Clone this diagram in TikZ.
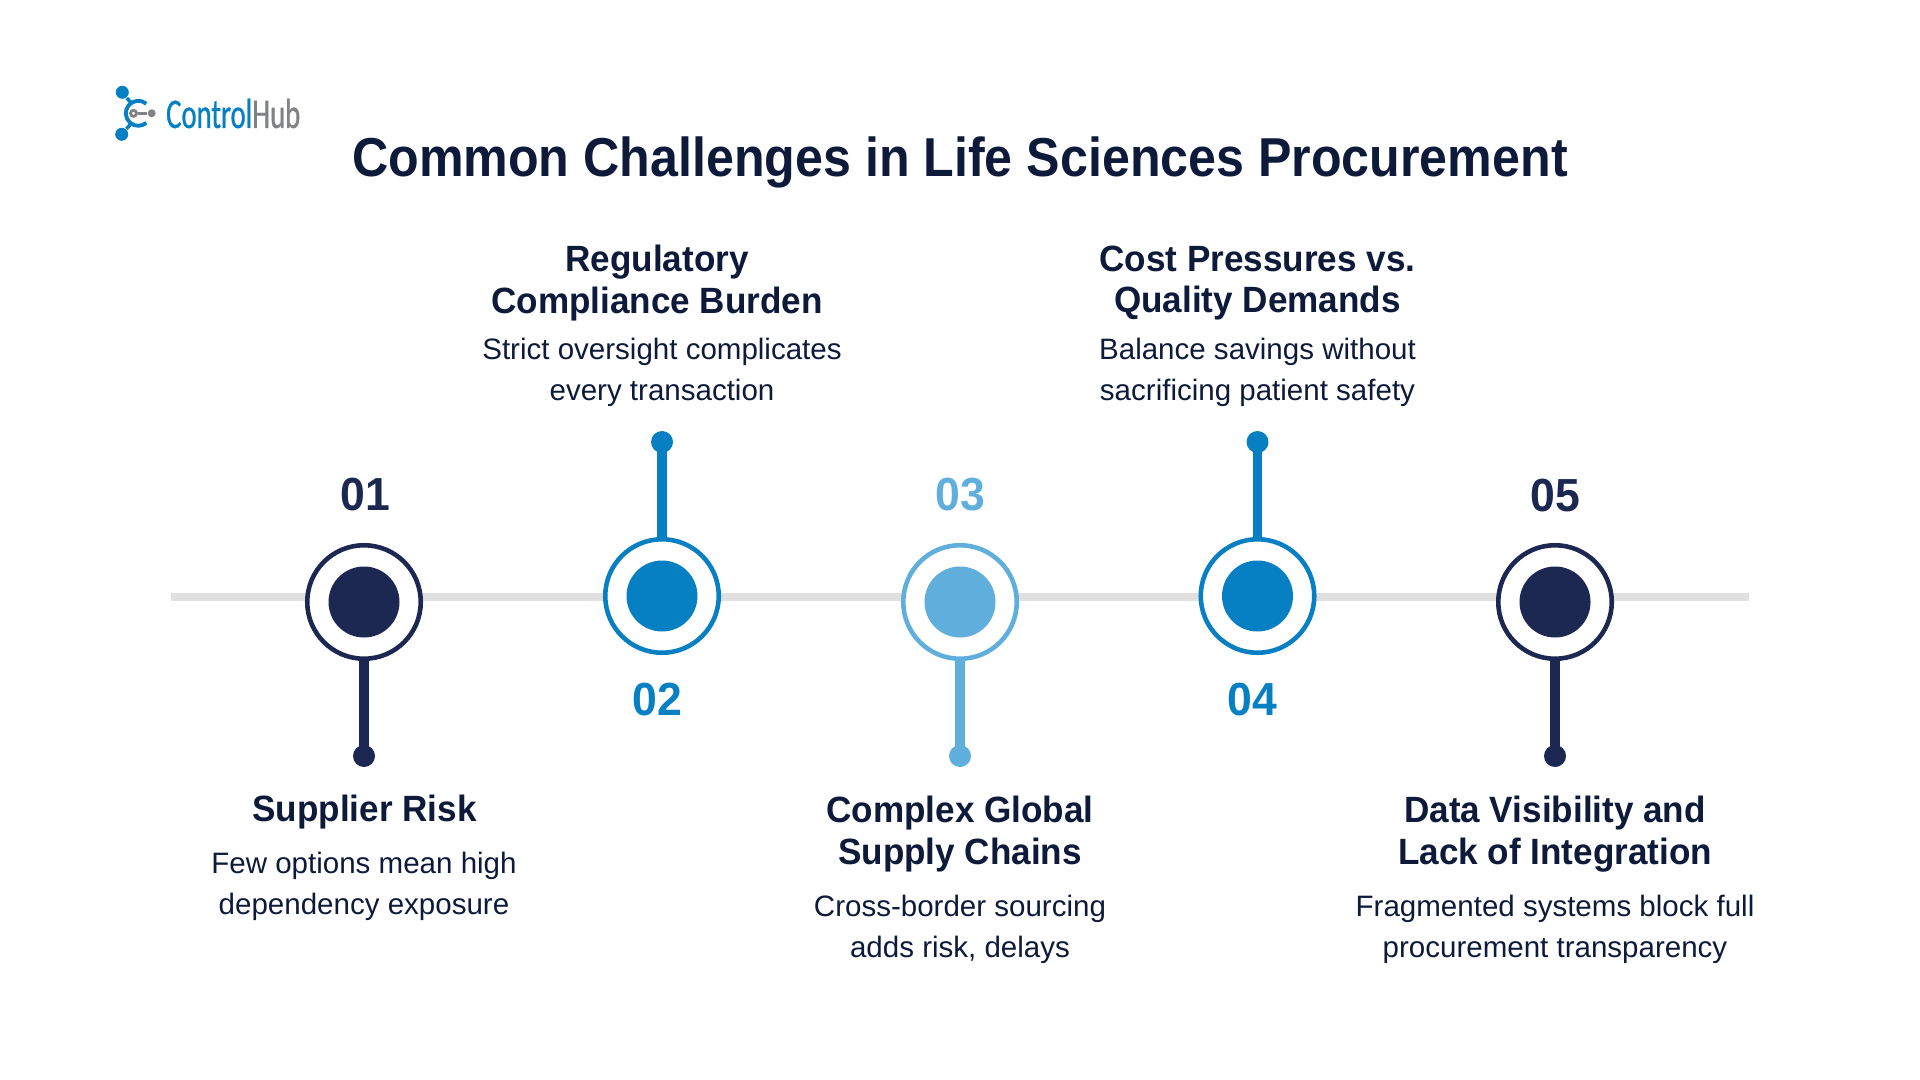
\documentclass[tikz,border=0pt]{standalone}
\usepackage{fontspec}
\usepackage{xcolor}
\usetikzlibrary{positioning, calc}
\setmainfont{Liberation Sans}
\newfontfamily\logofont{Carlito}[FakeStretch=0.68, FakeBold=0.8]
\newfontfamily\titlefont{Liberation Sans Bold}[FakeStretch=0.915]
\newfontfamily\headfont{Liberation Sans Bold}[FakeStretch=0.96]
\definecolor{navy}{HTML}{1C2752}
\definecolor{midblue}{HTML}{0680C2}
\definecolor{lightblue}{HTML}{5FAEDB}
\definecolor{railgrey}{HTML}{E0E0E0}
\definecolor{inktext}{HTML}{0E1A3A}
\definecolor{hubgrey}{HTML}{808285}
\tikzset{
  ring/.style={circle, draw=#1, fill=white, line width=1.3pt, minimum size=1.135cm, inner sep=0pt},
  disc/.style={circle, fill=#1, minimum size=0.71cm, inner sep=0pt},
  tip/.style={circle, fill=#1, minimum size=0.22cm, inner sep=0pt},
  stem/.style={#1, line width=2.8pt},
  nolabel/.style={font=\headfont\fontsize{13.2}{14}\selectfont, text=#1, inner sep=0pt},
  heading/.style={font=\headfont\fontsize{10.4}{11.9}\selectfont, text=inktext, align=center, inner sep=0pt},
  bodytext/.style={font=\fontsize{8.4}{11.6}\selectfont, text=inktext, align=center, inner sep=0pt},
  logodot/.style={circle, fill=midblue, minimum size=0.13cm, inner sep=0pt},
}
\begin{document}
\begin{tikzpicture}
  \useasboundingbox (0,0) rectangle (19.2,-10.8);
  \coordinate (railL) at (1.71, -5.97);
  \coordinate (railR) at (17.49, -5.97);
  \draw[railgrey, line width=2.3pt] (railL) -- (railR);

  \node[tip=navy] (d1) at (3.64, -7.56) {};
  \node[tip=midblue] (d2) at (6.62, -4.42) {};
  \node[tip=lightblue] (d3) at (9.60, -7.56) {};
  \node[tip=midblue] (d4) at (12.575, -4.42) {};
  \node[tip=navy] (d5) at (15.55, -7.56) {};

  \node[ring=navy] (r1) at (3.64, -6.02) {};
  \node[ring=midblue] (r2) at (6.62, -5.96) {};
  \node[ring=lightblue] (r3) at (9.60, -6.02) {};
  \node[ring=midblue] (r4) at (12.575, -5.96) {};
  \node[ring=navy] (r5) at (15.55, -6.02) {};

  \node[disc=navy] (c1) at (r1) {};
  \node[disc=midblue] (c2) at (r2) {};
  \node[disc=lightblue] (c3) at (r3) {};
  \node[disc=midblue] (c4) at (r4) {};
  \node[disc=navy] (c5) at (r5) {};

  \draw
    (r1) edge[stem=navy] (d1.center)
    (r2) edge[stem=midblue] (d2.center)
    (r3) edge[stem=lightblue] (d3.center)
    (r4) edge[stem=midblue] (d4.center)
    (r5) edge[stem=navy] (d5.center);

  \node[nolabel=navy] (n1) at (3.655, -4.95) {01};
  \node[nolabel=midblue] (n2) at (6.57, -6.995) {02};
  \node[nolabel=lightblue] (n3) at (9.60, -4.95) {03};
  \node[nolabel=midblue] (n4) at (12.52, -6.995) {04};
  \node[nolabel=navy] (n5) at (15.555, -4.955) {05};

  \node[font=\titlefont\fontsize{15.6}{18}\selectfont, text=inktext, inner sep=0pt] (title) at (9.60, -1.62) {Common Challenges in Life Sciences Procurement};

  \node[heading] (h1) at (3.645, -8.125) {Supplier Risk};
  \node[bodytext] (b1) at (3.64, -8.865) {Few options mean high\\dependency exposure};
  \node[heading] (h2) at (6.57, -2.83) {Regulatory\\Compliance Burden};
  \node[bodytext] (b2) at (6.62, -3.725) {Strict oversight complicates\\every transaction};
  \node[heading] (h3) at (9.60, -8.34) {Complex Global\\Supply Chains};
  \node[bodytext] (b3) at (9.60, -9.295) {Cross-border sourcing\\adds risk, delays};
  \node[heading] (h4) at (12.575, -2.83) {Cost Pressures vs.\\Quality Demands};
  \node[bodytext] (b4) at (12.575, -3.725) {Balance savings without\\sacrificing patient safety};
  \node[heading] (h5) at (15.55, -8.34) {Data Visibility and\\Lack of Integration};
  \node[bodytext] (b5) at (15.55, -9.295) {Fragmented systems block full\\procurement transparency};

  \node[logodot] (lt) at (1.223, -0.923) {};
  \node[logodot] (lb) at (1.217, -1.343) {};
  \coordinate (la) at (1.383, -1.133);
  \draw[midblue, line width=1pt] (lt) -- ($(la)+(125:0.125)$) (lb) -- ($(la)+(235:0.125)$);
  \draw[midblue, line width=1.1pt] ($(la)+(50:0.125)$) arc (50:310:0.125);
  \node[circle, draw=hubgrey, line width=0.8pt, minimum size=0.06cm, inner sep=0pt] (lc) at (1.335, -1.133) {};
  \node[circle, fill=hubgrey, minimum size=0.08cm, inner sep=0pt] (le) at (1.517, -1.133) {};
  \draw[hubgrey, line width=1pt] (lc) -- (le);
  \node[font=\logofont\fontsize{12}{14}\selectfont, inner sep=0pt, anchor=west] (logo) at (1.655, -1.135) {\textcolor{midblue}{Control}\textcolor{hubgrey}{Hub}};
\end{tikzpicture}
\end{document}
